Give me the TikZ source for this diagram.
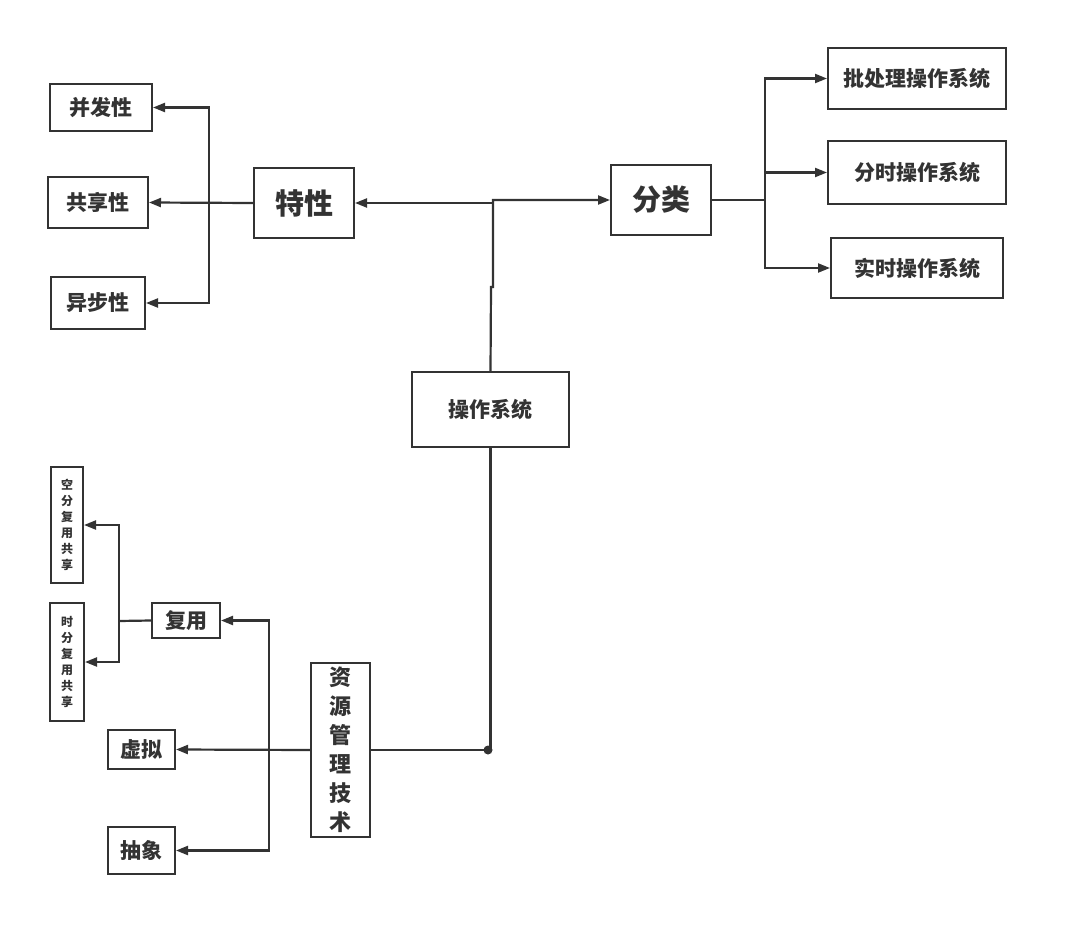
\documentclass[tikz,border=0pt]{standalone}
\usepackage{fontspec}
\setmainfont{Noto Sans CJK SC}
\usetikzlibrary{arrows.meta}
\begin{document}
\begin{tikzpicture}
[x=1pt,y=-1pt,
box/.style={draw=black!80,line width=2pt,inner sep=0pt,text=black!80,
            font=\bfseries\fontsize{21}{21}\selectfont},
big/.style={font=\bfseries\fontsize{29}{29}\selectfont},
tall/.style={align=center,font=\bfseries\fontsize{22}{29}\selectfont},
thin/.style={align=center,font=\bfseries\fontsize{12}{16}\selectfont},
link/.style={draw=black!80,line width=2.2pt},
arr/.style={link,-{Triangle[length=12pt,width=9pt]}}
]
\useasboundingbox (0,0) rectangle (1068,936);
% centre
\node[box,minimum width=157pt,minimum height=75pt] (os) at (490.5,409.5) {操作系统};
% characteristics
\node[box,big,minimum width=100pt,minimum height=70pt] (texing) at (304,203) {特性};
\node[box,minimum width=102pt,minimum height=47pt] (bingfa) at (101,107.5) {并发性};
\node[box,minimum width=100pt,minimum height=51pt] (gongxiang) at (98,202.5) {共享性};
\node[box,minimum width=94pt,minimum height=52pt] (yibu) at (98,303) {异步性};
% classification
\node[box,big,minimum width=100pt,minimum height=70pt] (fenlei) at (661,200) {分类};
\node[box,minimum width=178pt,minimum height=61pt] (pichuli) at (917,78.5) {批处理操作系统};
\node[box,minimum width=178pt,minimum height=63pt] (fenshi) at (917,172.5) {分时操作系统};
\node[box,minimum width=172pt,minimum height=60pt] (shishi) at (917,268) {实时操作系统};
% resource management
\node[box,tall,minimum width=59pt,minimum height=174pt] (ziyuan) at (340.5,750) {资\\源\\管\\理\\技\\术};
\node[box,minimum width=68pt,minimum height=35pt] (fuyong) at (186,620.5) {复用};
\node[box,minimum width=67pt,minimum height=39pt] (xuni) at (141.5,749.5) {虚拟};
\node[box,minimum width=67pt,minimum height=47pt] (chouxiang) at (141.5,850.5) {抽象};
\node[box,thin,minimum width=32pt,minimum height=116pt] (kongfen) at (67,525) {空\\分\\复\\用\\共\\享};
\node[box,thin,minimum width=34pt,minimum height=118pt] (shifen) at (67,662) {时\\分\\复\\用\\共\\享};
% joints
\coordinate (jog) at (491,287);
\coordinate (split) at (493,203);
\coordinate (tx) at (209,203);
\coordinate (fl) at (765,200);
\coordinate (zy) at (269,750);
\coordinate (fy) at (119,621);
% connectors
\draw[arr] (os.north) -- (jog) -- ++(2,0) |- (fenlei.west);
\draw[arr] (split) -- (texing.east);
\draw[arr] (texing.west) -- (gongxiang.east);
\draw[arr] (tx) |- (bingfa.east);
\draw[arr] (tx) |- (yibu.east);
\draw[link] (fenlei.east) -- (fl);
\draw[arr] (fl) |- (pichuli.west);
\draw[arr] (fl) |- (fenshi.west);
\draw[arr] (fl) |- (shishi.west);
\draw[link] (os.south) |- (ziyuan.east);
\fill[black!80] (488,750) circle (4.5pt);
\draw[arr] (ziyuan.west) -- (xuni.east);
\draw[arr] (zy) |- (fuyong.east);
\draw[arr] (zy) |- (chouxiang.east);
\draw[link] (fuyong.west) -- (fy);
\draw[arr] (fy) |- (kongfen.east);
\draw[arr] (fy) |- (shifen.east);
\end{tikzpicture}
\end{document}
